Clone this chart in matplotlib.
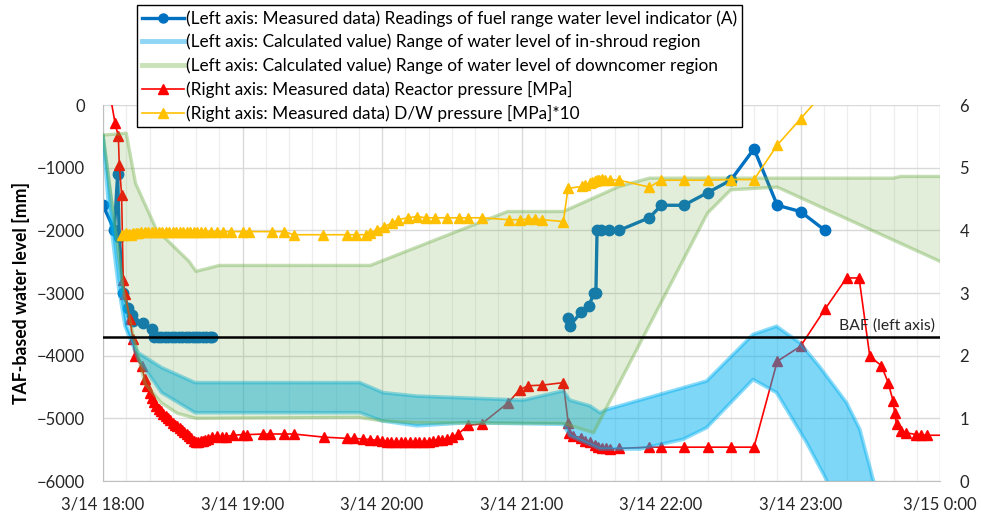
import matplotlib
matplotlib.use('Agg')
import matplotlib.pyplot as plt
import matplotlib.transforms as mtransforms
from matplotlib.lines import Line2D
import numpy as np
import pandas as pd

plt.rcParams['font.family'] = ['Lato', 'DejaVu Sans']

# times are minutes after 3/14 18:00
start = pd.Timestamp('2011-03-14 18:00')

# (Left axis) fuel range water level indicator (A) [mm], NaN splits the gap
level_min = [0, 4.9, 6.3, 7, 8.7, 10.9, 12.3, 13, 17.3, 21,
             22, 23.5, 25, 26.5, 28, 29.5, 31, 32.5, 34, 35.5, 37, 38.5, 40, 41.5, 43, 44.5, 46, 47,
             120,
             200.1, 200.8, 205.8, 209.1, 211.1, 212, 212.5, 214.1, 217.7, 222, 234.9, 240.2,
             249.8, 260, 270, 280, 290, 300, 310.5]
level_mm = [-1600, -2000, -1100, -2100, -3000, -3240, -3345, -3450, -3475, -3580,
            -3710, -3710, -3710, -3710, -3710, -3710, -3710, -3710, -3710, -3710, -3710, -3710,
            -3710, -3710, -3710, -3710, -3710, -3710,
            np.nan,
            -3400, -3520, -3300, -3200, -3000, -3000, -2000, -2000, -2000, -2000, -1800, -1600,
            -1600, -1400, -1200, -700, -1600, -1700, -2000]

# (Left axis) in-shroud region range [mm]
shroud_up_min = [0, 5.2, 8, 10.2, 15.2, 25.2, 39.6, 110.5, 120.5, 135, 180.7, 198, 200.8,
                 209.4, 213.7, 216.6, 259.6, 279.6, 289.7, 299.7, 308, 319.8, 325.5, 331.2, 336]
shroud_up_mm = [-500, -1990, -2790, -3530, -3955, -4190, -4430, -4430, -4590, -4645, -4710,
                -4560, -4710, -4800, -4910, -4860, -4405, -3660, -3530, -3795, -4165, -4750,
                -5175, -5970, -6600]
shroud_lo_min = [0, 2.3, 6.6, 9.5, 15.2, 25.2, 39.6, 110.5, 120, 135, 156, 198, 200.8, 210.8,
                 213.7, 231, 249.5, 259.6, 279.6, 289.7, 302.6, 311, 316]
shroud_lo_mm = [-500, -1565, -2890, -3530, -4060, -4590, -4910, -4910, -5040, -5120, -5070,
                -5095, -5280, -5440, -5490, -5490, -5335, -5150, -4380, -4590, -5385, -5970, -6600]

# (Left axis) downcomer region range [mm]
down_up_min = [0, 10, 14, 23, 37, 40, 50, 115, 174, 198, 222, 235, 340, 343, 360]
down_up_mm = [-480, -450, -1250, -1990, -2495, -2655, -2560, -2560, -1700, -1700, -1300,
              -1167, -1167, -1140, -1140]
down_lo_min = [0, 8.7, 13, 18, 25, 32, 40, 110, 120, 135, 198, 211, 260, 270, 290, 360]
down_lo_mm = [-480, -2945, -3690, -4450, -4750, -4920, -5000, -4985, -5040, -5070, -5080,
              -5230, -1725, -1353, -1310, -2495]

# (Right axis) reactor pressure [MPa]
rp_min = [0, 5.2, 6.6, 7, 8, 8.7, 9.5, 11.6, 12.8, 13.8, 16.6, 18, 19, 20, 21, 22, 23, 24, 25,
          26, 27, 28, 29, 30, 31, 32, 33, 34, 35, 36, 37, 38, 39, 40, 41, 42, 43, 44, 45, 47,
          49, 51, 53, 56, 60, 62, 69, 72, 78, 82, 95, 105, 108, 112, 115, 118, 120, 122, 124,
          126, 128, 130, 132, 134, 136, 138, 140, 142, 144, 146, 148, 150, 152.8, 157, 162.8,
          174.3, 179.3, 182.9, 189, 198, 200.1, 200.5, 202, 205.8, 207.5, 209.5, 211.5, 213,
          214.5, 216.5, 218, 222, 235, 240, 250, 260, 270, 280, 290, 300, 310.5, 319.8, 325.2,
          329.8, 334.8, 337.7, 339.8, 340.5, 341.3, 343.4, 345.5, 349.8, 352, 354.2, 370]
rp_mpa = [6.8, 5.71, 5.50, 5.05, 4.57, 3.21, 2.98, 2.58, 2.27, 1.99, 1.84, 1.62, 1.52, 1.40,
          1.32, 1.26, 1.20, 1.15, 1.11, 1.07, 1.03, 1.00, 0.97, 0.93, 0.90, 0.87, 0.84, 0.81,
          0.78, 0.75, 0.72, 0.68, 0.64, 0.63, 0.63, 0.64, 0.64, 0.66, 0.67, 0.70, 0.72, 0.70,
          0.71, 0.73, 0.74, 0.74, 0.75, 0.75, 0.75, 0.75, 0.70, 0.68, 0.68, 0.67, 0.66, 0.65,
          0.64, 0.63, 0.63, 0.62, 0.62, 0.62, 0.62, 0.63, 0.62, 0.63, 0.63, 0.64, 0.65, 0.66,
          0.67, 0.70, 0.75, 0.89, 0.91, 1.25, 1.46, 1.52, 1.53, 1.57, 0.92, 0.76, 0.72, 0.69,
          0.64, 0.62, 0.58, 0.55, 0.53, 0.52, 0.51, 0.52, 0.54, 0.54, 0.54, 0.54, 0.54, 0.54,
          1.91, 2.15, 2.74, 3.24, 3.24, 1.99, 1.84, 1.57, 1.28, 1.09, 0.91, 0.80, 0.77, 0.74,
          0.74, 0.73, 0.73]

# (Right axis) D/W pressure [MPa]*10
dw_min = [8, 9, 10, 11, 12, 13, 14, 15, 16.5, 18, 19.5, 21, 22.5, 24, 25.5, 27, 28.5, 30, 31.5,
          33, 34.5, 36, 37.5, 39, 40.5, 42, 44, 46.5, 49, 51.5, 55, 60, 63, 72.5, 78, 82, 94.7,
          104.8, 109, 113, 115, 118, 121, 124.5, 127, 131, 135, 139, 143, 148, 153, 157, 163,
          174.5, 179.5, 183, 186, 189, 198, 200, 206, 207.5, 209.5, 210.5, 211.5, 212.5, 213.5,
          214.5, 216, 218, 222, 235, 240, 250, 260, 270, 280, 290, 300, 310]
dw_val = [3.92, 3.93, 3.95, 3.94, 3.93, 3.95, 3.96, 3.95, 3.97, 3.97, 3.97, 3.98, 3.97, 3.98,
          3.98, 3.98, 3.98, 3.98, 3.98, 3.98, 3.98, 3.98, 3.98, 3.98, 3.98, 3.98, 3.98, 3.98,
          3.98, 3.98, 3.98, 3.98, 3.98, 3.98, 3.98, 3.93, 3.93, 3.93, 3.93, 3.93, 3.96, 4.01,
          4.06, 4.12, 4.17, 4.20, 4.22, 4.20, 4.20, 4.20, 4.20, 4.20, 4.20, 4.17, 4.17, 4.18,
          4.18, 4.17, 4.14, 4.67, 4.70, 4.72, 4.75, 4.77, 4.79, 4.80, 4.80, 4.82, 4.81, 4.81,
          4.80, 4.69, 4.80, 4.80, 4.80, 4.81, 4.81, 5.36, 5.78, 6.2]

baf_mm = -3710
tick_labels = ['3/14 18:00', '3/14 19:00', '3/14 20:00', '3/14 21:00',
               '3/14 22:00', '3/14 23:00', '3/15 0:00']
legend_labels = [
    '(Left axis: Measured data) Readings of fuel range water level indicator (A)',
    '(Left axis: Calculated value) Range of water level of in-shroud region',
    '(Left axis: Calculated value) Range of water level of downcomer region',
    '(Right axis: Measured data) Reactor pressure [MPa]',
    '(Right axis: Measured data) D/W pressure [MPa]*10',
]


def at(mins):
    return start + pd.to_timedelta(np.asarray(mins, dtype=float), unit='min')


BLUE = '#0070c0'
CYAN = '#00b0f0'
GREEN = '#70ad47'
RED = '#ff0000'
YELLOW = '#ffc000'
TXT = '#262626'

fig = plt.figure(figsize=(9.81, 5.19), dpi=100)
ax = fig.add_axes([103 / 981, 1 - 481 / 519, (940 - 103) / 981, (481 - 105) / 519])
ax2 = ax.twinx()

ax.set_xlim(start, start + pd.Timedelta(hours=6))
ax.set_ylim(-6000, 0)
ax2.set_ylim(0, 6)

# everything lives on ax so the stacking order can mix both y scales
right = ax2.transData

ax.plot(at(level_min), level_mm, color=BLUE, lw=2.4, marker='o', ms=7.5, zorder=2)
ax.plot(at(rp_min), rp_mpa, color=RED, lw=1.2, marker='^', ms=7.5, zorder=3, transform=right)

# in-shroud band, then the downcomer band laid over it
poly_t = np.concatenate([at(shroud_up_min), at(shroud_lo_min)[::-1]])
poly_v = np.concatenate([shroud_up_mm, shroud_lo_mm[::-1]])
ax.fill(poly_t, poly_v, facecolor=CYAN, alpha=0.5, edgecolor='none', zorder=4)
ax.plot(at(shroud_up_min), shroud_up_mm, color=CYAN, alpha=0.45, lw=2.6, zorder=4.1)
ax.plot(at(shroud_lo_min), shroud_lo_mm, color=CYAN, alpha=0.45, lw=2.6, zorder=4.1)

poly_t = np.concatenate([at(down_up_min), at(down_lo_min)[::-1]])
poly_v = np.concatenate([down_up_mm, down_lo_mm[::-1]])
ax.fill(poly_t, poly_v, facecolor=GREEN, alpha=0.2, edgecolor='none', zorder=5)
ax.plot(at(down_up_min), down_up_mm, color=GREEN, alpha=0.4, lw=2.4, zorder=5.1)
ax.plot(at(down_lo_min), down_lo_mm, color=GREEN, alpha=0.4, lw=2.4, zorder=5.1)

ax.plot(at(dw_min), dw_val, color=YELLOW, lw=1.2, marker='^', ms=7.5, zorder=6, transform=right)

ax.axhline(baf_mm, color='black', lw=1.8, zorder=7)
blend = mtransforms.blended_transform_factory(ax.transAxes, ax.transData)
ax.text(0.994, baf_mm + 70, 'BAF (left axis)', transform=blend, ha='right', va='bottom',
        fontsize=11.3, color=TXT, zorder=7)

# axes, ticks, grid
hours = pd.date_range(start, periods=7, freq='h')
ax.set_xticks(hours, tick_labels)
ax.set_xticks(pd.date_range(start, periods=37, freq='10min'), minor=True)
ax.set_yticks(range(-6000, 1, 1000))
ax2.set_yticks(range(0, 7))
ax.grid(which='major', axis='y', color='#d9d9d9', lw=1.0)
ax.grid(which='major', axis='x', color='#dadada', lw=1.0)
ax.grid(which='minor', axis='x', color='#eeeeee', lw=0.9)
ax.set_axisbelow(True)
for a in (ax, ax2):
    a.tick_params(which='both', length=0, labelsize=12, labelcolor=TXT)
    a.spines['top'].set_visible(False)
    a.spines['right'].set_visible(False)
    a.spines['left'].set_color('#bfbfbf')
    a.spines['bottom'].set_color('#bfbfbf')
ax2.spines['left'].set_visible(False)
ax2.spines['bottom'].set_visible(False)
ax.tick_params(axis='x', pad=11)
ax.tick_params(axis='y', pad=13)
ax2.tick_params(axis='y', pad=14)
ax.set_ylabel('TAF-based water level [mm]', fontsize=12.7, fontweight='bold', labelpad=5)

handles = [
    Line2D([], [], color=BLUE, lw=2.4, marker='o', ms=6.5),
    Line2D([], [], color='#8fd5f5', lw=3.5),
    Line2D([], [], color='#c9e2b8', lw=3.5),
    Line2D([], [], color=RED, lw=1.2, marker='^', ms=7.5),
    Line2D([], [], color=YELLOW, lw=1.2, marker='^', ms=7.5),
]
leg = fig.legend(handles, legend_labels, loc='upper left',
                 bbox_to_anchor=(137 / 981, 1 - 5 / 519), fontsize=12.4,
                 frameon=True, fancybox=False, framealpha=1, edgecolor='black',
                 handlelength=2.4, handletextpad=0.15, labelspacing=0.41,
                 borderpad=0.3, borderaxespad=0)
leg.get_frame().set_linewidth(1.0)
leg.set_zorder(20)

fig.savefig('out.png', dpi=100)
